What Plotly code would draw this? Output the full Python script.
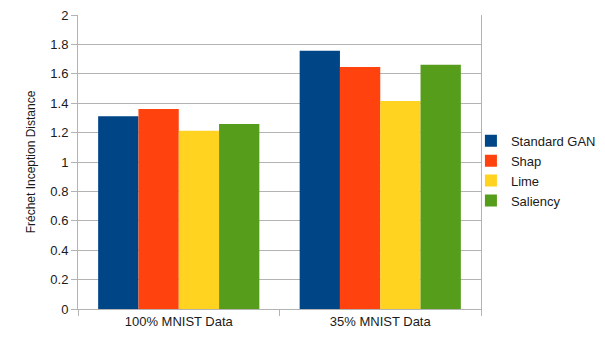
import plotly.graph_objects as go

categories = ["100% MNIST Data", "35% MNIST Data"]
series_names = ["Standard GAN", "Shap", "Lime", "Saliency"]
standard_gan = [1.311, 1.757]
shap = [1.36, 1.646]
lime = [1.213, 1.415]
saliency = [1.258, 1.662]
y_ticks = [0, 0.2, 0.4, 0.6, 0.8, 1, 1.2, 1.4, 1.6, 1.8, 2]

colors = ["#004586", "#ff420e", "#ffd320", "#579d1c"]

fig = go.Figure()

for name, vals, col in zip(series_names, [standard_gan, shap, lime, saliency], colors):
    fig.add_trace(go.Bar(
        x=categories,
        y=vals,
        name=name,
        marker=dict(color=col, line=dict(width=0))
    ))

# page body has an 8px margin, so the figure is sized to fit the window
fig.update_layout(
    width=597,
    height=332,
    barmode="group",
    bargap=0.2,
    bargroupgap=0,
    plot_bgcolor="white",
    paper_bgcolor="white",
    margin=dict(l=70, r=124, t=7, b=31, autoexpand=False),
    font=dict(family="Liberation Sans, Arial, sans-serif", size=13, color="#1a1a1a"),
    legend=dict(
        x=0.975,
        y=0.47,
        xanchor="left",
        yanchor="middle",
        bgcolor="rgba(0,0,0,0)",
        font=dict(size=13),
        tracegroupgap=0,
        itemwidth=30
    )
)

fig.update_yaxes(
    range=[0, 2],
    tickmode="array",
    tickvals=y_ticks,
    ticktext=[f"{v:g}" for v in y_ticks],
    ticklabeloverflow="allow",
    showgrid=True,
    gridcolor="#b3b3b3",
    gridwidth=1,
    showline=True,
    linecolor="#b3b3b3",
    mirror=True,
    ticks="outside",
    ticklen=6,
    tickcolor="#b3b3b3",
    zeroline=False,
    automargin=False,
    title=dict(text="Fréchet Inception Distance", font=dict(size=12), standoff=12)
)

fig.update_xaxes(
    showline=True,
    linecolor="#b3b3b3",
    ticks="outside",
    tickson="boundaries",
    ticklen=6,
    tickcolor="#b3b3b3",
    showgrid=False,
    automargin=False
)

fig.write_html("out.html")
